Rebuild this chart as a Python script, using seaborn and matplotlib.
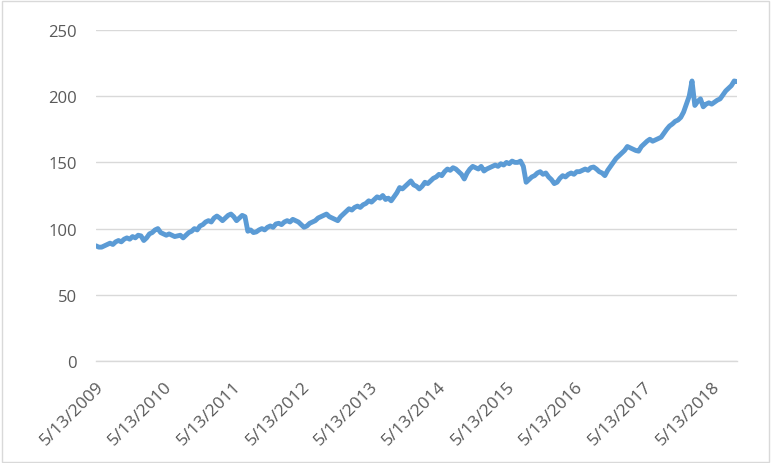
import matplotlib
matplotlib.use("Agg")
import matplotlib.pyplot as plt
import matplotlib.dates as mdates
from matplotlib.patches import Rectangle
import pandas as pd
import seaborn as sns

start_date = "2009-05-13"
step_days = 15
values = [
    87, 86, 86, 87, 88, 89, 88, 90, 91, 90,
    92, 93, 92, 94, 93, 95, 94.5, 91, 93, 96,
    97, 99, 100, 97, 96, 95, 96, 95, 94, 94.5,
    95, 93, 95, 97, 98, 100, 99, 102, 103, 105,
    106, 105, 108, 109.5, 108, 106, 108, 110, 111, 109,
    106, 108, 110, 109, 98, 99, 97, 97.5, 99, 100,
    99, 101, 102, 101, 103.5, 104, 103, 105, 106, 105,
    107, 106, 105, 103, 101, 102, 104, 105, 106, 108,
    109, 110, 111, 109, 108, 107, 106, 109, 111, 113,
    115, 114, 116, 117, 116, 118, 119, 121, 120, 122,
    124, 123, 125, 122, 123, 121, 124, 127, 131, 130,
    132, 134, 136, 133, 132, 130, 132, 135, 134, 136,
    138, 139, 141, 140, 143, 145, 144, 146, 145, 143,
    141, 137.5, 142, 145, 147, 146, 145, 147, 143.5, 145,
    146, 147, 148, 147, 149, 148, 150, 149, 151, 150,
    150, 151, 147, 135, 137, 139, 140, 142, 143, 141,
    142, 139, 137, 134, 135, 138, 140, 139, 141, 142,
    141, 143, 143, 144, 145, 144, 146, 146.5, 145, 143,
    142, 140, 144, 147, 150, 153, 155, 157, 159, 162,
    161, 160, 159, 158.5, 162, 164, 166, 167.5, 166, 167,
    168, 169, 172, 175, 177.5, 179, 181, 182, 184, 188,
    194, 200, 211.5, 193, 196, 198, 192, 194, 195, 194,
    195.5, 197, 198, 201, 204, 206, 208, 211.5, 211,
]
tick_dates = ["2009-05-13", "2010-05-13", "2011-05-13", "2012-05-13", "2013-05-13",
              "2014-05-13", "2015-05-13", "2016-05-13", "2017-05-13", "2018-05-13"]
y_ticks = [0, 50, 100, 150, 200, 250]

dates = pd.date_range(start=start_date, periods=len(values), freq=f"{step_days}D")
df = pd.DataFrame({"date": dates, "value": values})

sns.set_style("white")
plt.rcParams["font.family"] = ["Open Sans", "DejaVu Sans"]
plt.rcParams["ytick.major.pad"] = 13.5
plt.rcParams["xtick.major.pad"] = 8

fig = plt.figure(figsize=(7.71, 4.64), dpi=100)
ax = fig.add_axes([0.1245, 0.2198, 0.8314, 0.7134])

sns.lineplot(data=df, x="date", y="value", ax=ax, color="#5B9BD5", linewidth=3.5)

ax.set_xlim(df["date"].min(), df["date"].max())
ax.set_ylim(0, 250)
ax.set_yticks(y_ticks)
ax.set_xticks(pd.to_datetime(tick_dates))
ax.xaxis.set_major_formatter(mdates.DateFormatter("%-m/%-d/%Y"))
ax.grid(axis="y", color="#d9d9d9", linewidth=1)
ax.set_axisbelow(True)
for s in ["top", "right", "left"]:
    ax.spines[s].set_visible(False)
ax.spines["bottom"].set_color("#d9d9d9")
ax.spines["bottom"].set_linewidth(1)
ax.tick_params(axis="x", which="major", direction="out", length=4.5, width=1,
               color="#d9d9d9", labelsize=12.5, labelcolor="#595959")
ax.tick_params(axis="y", length=0, labelsize=12, labelcolor="#595959")
for lab in ax.get_xticklabels():
    lab.set_rotation(45)
    lab.set_ha("right")
    lab.set_rotation_mode("anchor")
ax.set_xlabel("")
ax.set_ylabel("")

fig.patches.append(Rectangle((0.002, 0.003), 0.995, 0.993, transform=fig.transFigure,
                             fill=False, edgecolor="#d9d9d9", linewidth=1))

fig.savefig("out.png", dpi=100)
